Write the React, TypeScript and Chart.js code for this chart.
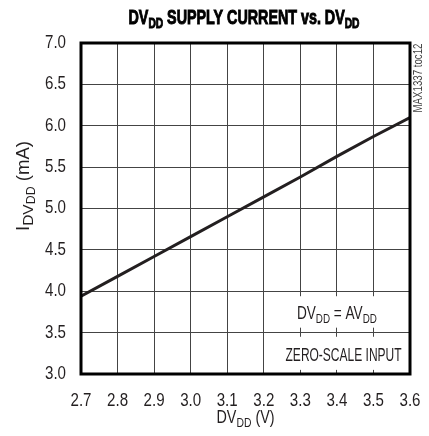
import React, { useEffect, useRef } from "react";
import { Chart, registerables } from "chart.js";

Chart.register(...registerables);

const supplyVoltage = [2.7, 2.8, 2.9, 3.0, 3.1, 3.2, 3.3, 3.4, 3.5, 3.6];
const supplyCurrent = [3.94, 4.18, 4.42, 4.66, 4.9, 5.14, 5.38, 5.63, 5.87, 6.1];
const xTickLabels = ["2.7", "2.8", "2.9", "3.0", "3.1", "3.2", "3.3", "3.4", "3.5", "3.6"];
const yTickLabels = ["3.0", "3.5", "4.0", "4.5", "5.0", "5.5", "6.0", "6.5", "7.0"];

const FF = '"Liberation Sans", Arial, sans-serif';

type Seg = { t: string; size: number; dy?: number; bold?: boolean };
type RichOpts = {
  x: number;
  y: number;
  align?: "left" | "center" | "right";
  rot?: number;
  width?: number;
  condense?: number;
  color?: string;
  baseline?: CanvasTextBaseline;
  stroke?: number;
};

function drawRich(ctx: CanvasRenderingContext2D, segs: Seg[], o: RichOpts) {
  ctx.save();
  ctx.translate(o.x, o.y);
  if (o.rot) ctx.rotate(o.rot);
  ctx.fillStyle = o.color || "#231f20";
  ctx.strokeStyle = o.color || "#231f20";
  ctx.textBaseline = o.baseline || "alphabetic";
  ctx.textAlign = "left";
  let natural = 0;
  const widths: number[] = [];
  for (const s of segs) {
    ctx.font = `${s.bold ? "bold " : ""}${s.size}px ${FF}`;
    const w = ctx.measureText(s.t).width;
    widths.push(w);
    natural += w;
  }
  const k = o.width ? o.width / natural : o.condense || 0.82;
  const total = natural * k;
  const align = o.align || "center";
  const start = align === "center" ? -total / 2 : align === "right" ? -total : 0;
  ctx.scale(k, 1);
  if (o.stroke) ctx.lineWidth = o.stroke;
  let cx = start / k;
  segs.forEach((s, i) => {
    ctx.font = `${s.bold ? "bold " : ""}${s.size}px ${FF}`;
    ctx.fillText(s.t, cx, s.dy || 0);
    if (o.stroke) ctx.strokeText(s.t, cx, s.dy || 0);
    cx += widths[i];
  });
  ctx.restore();
}

const textPlugin = {
  id: "customText",
  beforeDatasetsDraw(chart: any) {
    const { ctx, chartArea } = chart;
    const xs = chart.scales.x;
    const ys = chart.scales.y;
    ctx.save();
    ctx.fillStyle = "#ffffff";
    const left = xs.getPixelForValue(3.25);
    ctx.fillRect(left - 8, ys.getPixelForValue(3.94), chartArea.right - left + 8, ys.getPixelForValue(3.56) - ys.getPixelForValue(3.94));
    ctx.fillRect(left - 8, ys.getPixelForValue(3.45), chartArea.right - left + 8, ys.getPixelForValue(3.05) - ys.getPixelForValue(3.45));
    ctx.restore();
    const cx = xs.getPixelForValue(3.4);
    drawRich(ctx, [
      { t: "DV", size: 18 },
      { t: "DD", size: 13, dy: 4 },
      { t: " = AV", size: 18 },
      { t: "DD", size: 13, dy: 4 },
    ], { x: cx, y: ys.getPixelForValue(3.67), width: 80 });
    drawRich(ctx, [{ t: "ZERO-SCALE INPUT", size: 18 }], {
      x: (xs.getPixelForValue(3.22) + chartArea.right) / 2 + 3,
      y: ys.getPixelForValue(3.16),
      width: 116,
    });
  },
  afterDraw(chart: any) {
    const { ctx, chartArea } = chart;
    const xs = chart.scales.x;
    const ys = chart.scales.y;
    ctx.save();
    ctx.strokeStyle = "#000000";
    ctx.lineWidth = 3;
    ctx.strokeRect(chartArea.left, chartArea.top, chartArea.right - chartArea.left, chartArea.bottom - chartArea.top);
    ctx.restore();
    xs.ticks.forEach((t: any, i: number) => {
      drawRich(ctx, [{ t: xTickLabels[i] ?? String(t.value), size: 18 }], {
        x: xs.getPixelForValue(t.value),
        y: chartArea.bottom + 32,
        condense: 0.84,
      });
    });
    ys.ticks.forEach((t: any, i: number) => {
      drawRich(ctx, [{ t: yTickLabels[i] ?? String(t.value), size: 18 }], {
        x: chartArea.left - 15,
        y: ys.getPixelForValue(t.value),
        align: "right",
        baseline: "middle",
        condense: 0.84,
      });
    });
    drawRich(ctx, [
      { t: "DV", size: 18 },
      { t: "DD", size: 13, dy: 4 },
      { t: " (V)", size: 18 },
    ], { x: (chartArea.left + chartArea.right) / 2, y: 423, width: 58 });
    drawRich(ctx, [
      { t: "I", size: 18 },
      { t: "DV", size: 15, dy: 4 },
      { t: "DD", size: 12, dy: 6 },
      { t: " (mA)", size: 18 },
    ], { x: 29, y: 186, rot: -Math.PI / 2, width: 90 });
    drawRich(ctx, [
      { t: "DV", size: 21, bold: true },
      { t: "DD", size: 15, dy: 4, bold: true },
      { t: " SUPPLY CURRENT vs. DV", size: 21, bold: true },
      { t: "DD", size: 15, dy: 4, bold: true },
    ], { x: 244, y: 24, width: 231, color: "#000000", stroke: 1 });
    drawRich(ctx, [{ t: "MAX1337 toc12", size: 12 }], {
      x: 422,
      y: 78,
      rot: -Math.PI / 2,
      width: 69,
      color: "#444444",
    });
  },
};

export default function App() {
  const ref = useRef<HTMLCanvasElement | null>(null);
  useEffect(() => {
    document.body.style.margin = "0";
    const canvas = ref.current;
    if (!canvas) return;
    const chart = new Chart(canvas, {
      type: "line",
      data: {
        datasets: [
          {
            data: supplyVoltage.map((v, i) => ({ x: v, y: supplyCurrent[i] })),
            borderColor: "#231f20",
            borderWidth: 3,
            pointRadius: 0,
            tension: 0,
            fill: false,
          },
        ],
      },
      options: {
        responsive: false,
        animation: false,
        devicePixelRatio: 1,
        layout: { padding: { left: 81, top: 43, right: 19, bottom: 62 } },
        plugins: { legend: { display: false }, tooltip: { enabled: false }, title: { display: false } },
        scales: {
          x: {
            type: "linear",
            min: 2.7,
            max: 3.6,
            ticks: { display: false, stepSize: 0.1 },
            grid: { color: "#444444", lineWidth: 1, drawTicks: false },
            border: { display: false },
          },
          y: {
            type: "linear",
            min: 3,
            max: 7,
            ticks: { display: false, stepSize: 0.5 },
            grid: { color: "#444444", lineWidth: 1, drawTicks: false },
            border: { display: false },
          },
        },
      },
      plugins: [textPlugin],
    });
    return () => chart.destroy();
  }, []);
  return (
    <div style={{ width: 429, height: 436, background: "#ffffff" }}>
      <canvas ref={ref} width={429} height={436} style={{ display: "block" }} />
    </div>
  );
}
